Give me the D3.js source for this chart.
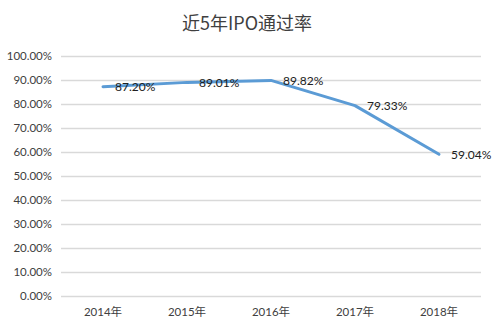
<!DOCTYPE html>
<html>
<head>
<meta charset="utf-8">
<script src="https://cdn.jsdelivr.net/npm/d3@7"></script>
<style>
  html, body { margin: 0; padding: 0; background: #fff; }
  svg { display: block; }
</style>
</head>
<body>
<svg id="chart" width="494" height="331"></svg>
<script>
// IPO approval rate over the last five years
const years = ["2014年", "2015年", "2016年", "2017年", "2018年"];
const rates = [87.20, 89.01, 89.82, 79.33, 59.04];
const yTicks = [0, 10, 20, 30, 40, 50, 60, 70, 80, 90, 100];
const titleText = "近5年IPO通过率";

const W = 494, H = 331;
const plot = { left: 61, right: 481, top: 56, bottom: 296 };
const svg = d3.select("#chart");
const latin = "Lato, 'Noto Sans', sans-serif";
const cjk = "Lato, 'Noto Sans CJK SC', sans-serif";

const x = d3.scaleBand().domain(years).range([plot.left, plot.right]);
const y = d3.scaleLinear().domain([0, 100]).range([plot.bottom, plot.top]);

// title
svg.append("text")
  .attr("x", W / 2).attr("y", 30)
  .attr("text-anchor", "middle")
  .attr("font-family", "'Noto Sans CJK SC', sans-serif")
  .attr("font-size", 18)
  .attr("fill", "#404040")
  .text(titleText);

// horizontal gridlines + y labels
const yAxis = d3.axisLeft(y).tickValues(yTicks)
  .tickSize(-(plot.right - plot.left))
  .tickPadding(9)
  .tickFormat(d => d.toFixed(2) + "%");
const gy = svg.append("g")
  .attr("transform", `translate(${plot.left},0)`)
  .call(yAxis);
gy.select(".domain").remove();
gy.selectAll(".tick line").attr("stroke", "#d9d9d9").attr("stroke-width", 1.3);
gy.selectAll(".tick text")
  .attr("font-family", latin).attr("font-size", 11.5).attr("fill", "#404040");

// x labels
const xAxis = d3.axisBottom(x).tickSize(0).tickPadding(12);
const gx = svg.append("g")
  .attr("transform", `translate(0,${plot.bottom})`)
  .call(xAxis);
gx.select(".domain").remove();
gx.selectAll(".tick text")
  .attr("font-family", cjk).attr("font-size", 11.5).attr("fill", "#404040");

// line
const cx = d => x(d) + x.bandwidth() / 2;
const line = d3.line().x((d, i) => cx(years[i])).y(d => y(d));
svg.append("path")
  .datum(rates)
  .attr("d", line)
  .attr("fill", "none")
  .attr("stroke", "#5B9BD5")
  .attr("stroke-width", 3)
  .attr("stroke-linejoin", "round")
  .attr("stroke-linecap", "round");

// value labels to the right of each point
svg.append("g").selectAll("text")
  .data(rates)
  .join("text")
  .attr("x", (d, i) => cx(years[i]) + 12)
  .attr("y", d => y(d))
  .attr("dy", "0.35em")
  .attr("font-family", latin)
  .attr("font-size", 12)
  .attr("fill", "#202020")
  .text(d => d.toFixed(2) + "%");
</script>
</body>
</html>
